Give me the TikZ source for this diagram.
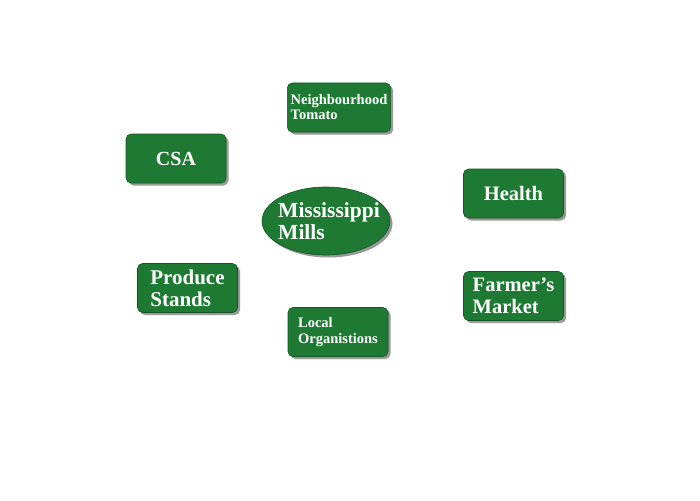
\documentclass[tikz,border=0pt]{standalone}
\usepackage{fontspec}
\setmainfont{Liberation Serif}
\usetikzlibrary{shapes.geometric, shadows}
\definecolor{leafgreen}{RGB}{30,122,50}
\tikzstyle{box}=[rectangle, rounded corners=5pt, fill=leafgreen, draw=leafgreen!70!black, line width=0.6pt, minimum width=100pt, minimum height=49pt, text=white, font=\bfseries, align=left, drop shadow={opacity=0.8, shadow xshift=2.5pt, shadow yshift=-2.5pt}]
\tikzstyle{hub}=[ellipse, fill=leafgreen, draw=leafgreen!70!black, line width=0.6pt, minimum width=128pt, minimum height=68pt, inner xsep=-12pt, inner ysep=0pt, text=white, font=\bfseries, align=left, drop shadow={opacity=0.8, shadow xshift=2.5pt, shadow yshift=-2.5pt}]

\begin{document}
\begin{tikzpicture}[x=1pt, y=-1pt]
	\useasboundingbox (0, 0) rectangle (700, 500);
	\node [style=hub, font=\fontsize{21.5}{22}\bfseries] (mills) at (326, 221) {\hspace*{6pt}Mississippi\\\hspace*{6pt}Mills};
	\node [style=box, font=\fontsize{14.5}{15}\bfseries] (tomato) at (339, 107.5) {Neighbourhood\\Tomato};
	\node [style=box, font=\fontsize{20}{20}\bfseries] (csa) at (176, 158.5) {CSA};
	\node [style=box, font=\fontsize{20.5}{20}\bfseries] (health) at (513.5, 193.5) {Health};
	\node [style=box, font=\fontsize{21}{22}\bfseries] (produce) at (187.5, 288) {Produce\\Stands};
	\node [style=box, font=\fontsize{20.5}{22}\bfseries] (market) at (513.5, 296) {Farmer's\\Market};
	\node [style=box, font=\fontsize{14.5}{16}\bfseries] (local) at (338, 332) {Local\\Organistions};
\end{tikzpicture}
\end{document}
